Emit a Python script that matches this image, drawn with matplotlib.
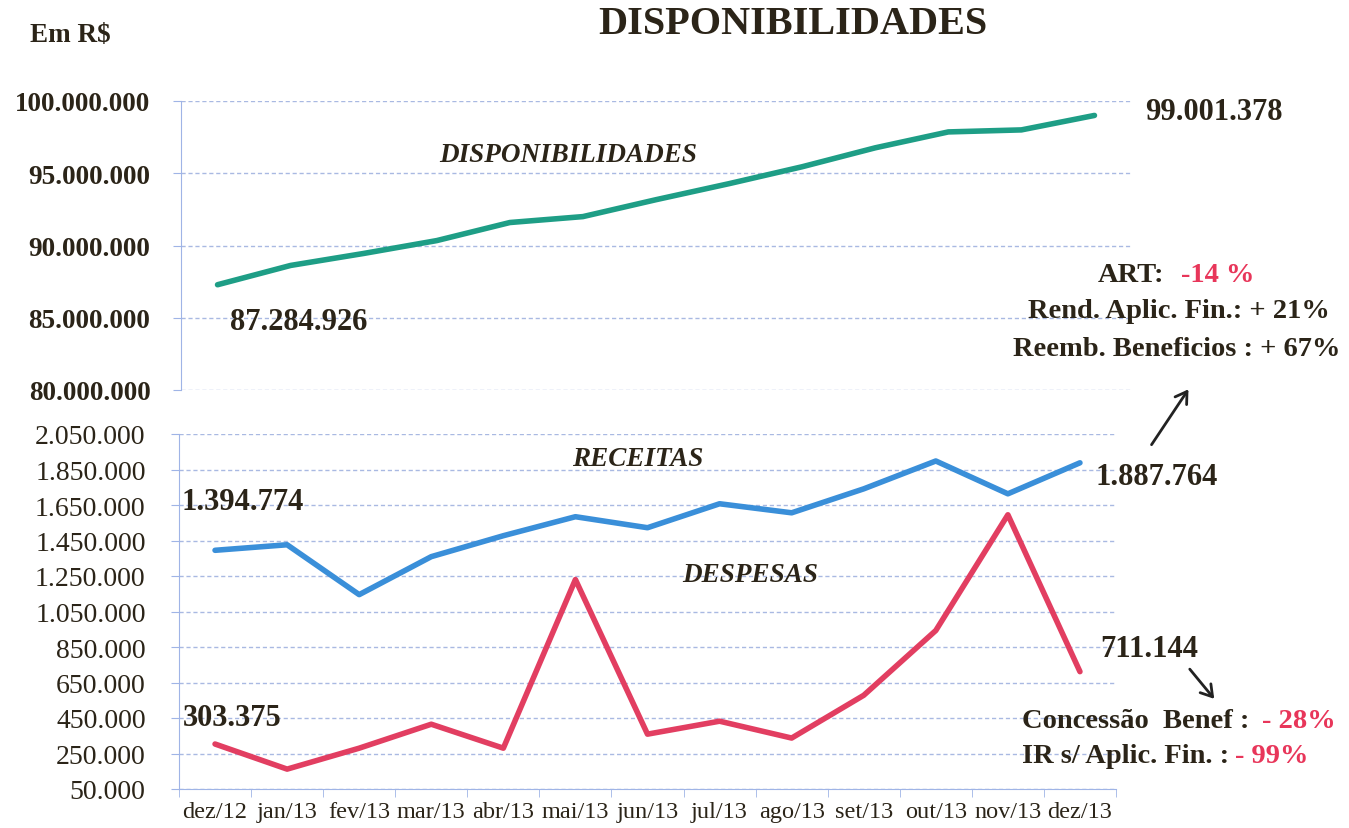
import matplotlib
matplotlib.use("Agg")
import matplotlib.pyplot as plt
from matplotlib.ticker import FixedLocator
from matplotlib.patches import FancyArrowPatch

plt.rcParams['font.family'] = ['Liberation Serif', 'DejaVu Serif']

meses = ['dez/12', 'jan/13', 'fev/13', 'mar/13', 'abr/13', 'mai/13', 'jun/13',
         'jul/13', 'ago/13', 'set/13', 'out/13', 'nov/13', 'dez/13']

# valores (R$)
disponibilidades = [87284926, 88620000, 89450000, 90340000, 91590000, 92000000,
                    93170000, 94280000, 95450000, 96760000, 97860000, 98000000,
                    99001378]
receitas = [1394774, 1426000, 1145000, 1359000, 1477000, 1584000, 1522000,
            1657000, 1606000, 1741000, 1898000, 1713000, 1887764]
despesas = [303375, 162000, 280000, 415000, 280000, 1230000, 359000,
            432000, 337000, 578000, 943000, 1595000, 711144]

ticks_top = [80000000, 85000000, 90000000, 95000000, 100000000]
ticks_bot = [50000 + 200000 * i for i in range(11)]

def fmt(v):
    return f'{v:,}'.replace(',', '.')

W, H = 1349, 829
fig = plt.figure(figsize=(W / 100, H / 100), dpi=100)
fig.patch.set_facecolor('white')

txt = '#2b2418'
red = '#e8365a'
grid_c = '#a9b9e2'
spine_c = '#9fb4e6'
x = list(range(len(meses)))

def box(l, t, r, b):
    return [l / W, 1 - b / H, (r - l) / W, (b - t) / H]

# painel superior
ax1 = fig.add_axes(box(181, 102, 1131, 391))
ax1.plot(x, disponibilidades, color='#1e9e86', lw=4, solid_capstyle='round')
ax1.set_xlim(-0.5, 12.5)
ax1.set_ylim(80000000, 100000000)
ax1.yaxis.set_major_locator(FixedLocator(ticks_top))
ax1.set_yticklabels([fmt(v) for v in ticks_top], fontsize=19.5,
                    fontweight='bold', color=txt)
ax1.set_xticks([])
ax1.grid(axis='y', color=grid_c, linestyle=(0, (3, 2)), lw=1)
for s in ['top', 'right', 'bottom']:
    ax1.spines[s].set_visible(False)
ax1.spines['left'].set_color(spine_c)
ax1.tick_params(axis='y', color=spine_c, length=6, pad=16)
ax1.set_facecolor('none')

# painel inferior
ax2 = fig.add_axes(box(179, 435, 1116, 790))
ax2.plot(x, receitas, color='#3a8fd9', lw=4, solid_capstyle='round')
ax2.plot(x, despesas, color='#e23e61', lw=4, solid_capstyle='round')
ax2.set_xlim(-0.5, 12.5)
ax2.set_ylim(50000, 2050000)
ax2.yaxis.set_major_locator(FixedLocator(ticks_bot))
ax2.set_yticklabels([fmt(v) for v in ticks_bot], fontsize=20, color=txt)
ax2.set_xticks(x)
ax2.set_xticklabels(meses, fontsize=17.5, color=txt)
ax2.set_xticks([i - 0.5 for i in range(len(meses) + 1)], minor=True)
ax2.tick_params(axis='x', which='major', length=0, pad=9)
ax2.tick_params(axis='x', which='minor', length=6, color=spine_c)
ax2.tick_params(axis='y', color=spine_c, length=6, pad=18)
ax2.grid(axis='y', color=grid_c, linestyle=(0, (3, 2)), lw=1)
for s in ['top', 'right']:
    ax2.spines[s].set_visible(False)
ax2.spines['left'].set_color(spine_c)
ax2.spines['bottom'].set_color(spine_c)
ax2.set_facecolor('none')

# textos
def t(px, py, s, **kw):
    kw.setdefault('color', txt)
    return fig.text(px / W, 1 - py / H, s, **kw)

def depois(prev, s, gap, **kw):
    # texto colocado logo a direita de outro texto
    return plt.annotate(s, xy=(1, 0.5), xycoords=prev, xytext=(gap, 0),
                        textcoords='offset points', va='center', **kw)

t(30, 36, 'Em R$', fontsize=19.5, fontweight='bold', va='center')
t(793, 25, 'DISPONIBILIDADES', fontsize=29, fontweight='bold', ha='center', va='center')
t(568, 155, 'DISPONIBILIDADES', fontsize=19.5, fontweight='bold', style='italic',
  ha='center', va='center')
t(230, 323, fmt(disponibilidades[0]), fontsize=22, fontweight='bold', va='center')
t(1145, 112, fmt(disponibilidades[-1]), fontsize=22, fontweight='bold', va='center')
t(638, 460, 'RECEITAS', fontsize=19.5, fontweight='bold', style='italic',
  ha='center', va='center')
t(750, 576, 'DESPESAS', fontsize=19.5, fontweight='bold', style='italic',
  ha='center', va='center')
t(182, 503, fmt(receitas[0]), fontsize=22, fontweight='bold', va='center')
t(1096, 478, fmt(receitas[-1]), fontsize=22, fontweight='bold', va='center')
t(183, 718, fmt(despesas[0]), fontsize=22, fontweight='bold', va='center')
t(1100, 650, fmt(despesas[-1]), fontsize=22, fontweight='bold', va='center')

fs = 20.5
a = t(1098, 275, 'ART:', fontsize=fs, fontweight='bold', va='center')
depois(a, '-14 %', 12, fontsize=fs, fontweight='bold', color=red)
t(1179, 311, 'Rend. Aplic. Fin.: + 21%', fontsize=fs, fontweight='bold',
  ha='center', va='center')
t(1177, 350, 'Reemb. Beneficios : + 67%', fontsize=fs, fontweight='bold',
  ha='center', va='center')
c = t(1022, 722, 'Concessão  Benef :', fontsize=fs, fontweight='bold', va='center')
depois(c, '- 28%', 9, fontsize=fs, fontweight='bold', color=red)
ir = t(1022, 757, 'IR s/ Aplic. Fin. :', fontsize=fs, fontweight='bold', va='center')
depois(ir, '- 99%', 4, fontsize=fs, fontweight='bold', color=red)

fig.patches.append(FancyArrowPatch(
    (1150 / W, 1 - 448 / H), (1190 / W, 1 - 388 / H), transform=fig.transFigure,
    arrowstyle='->,head_length=8,head_width=5', color='#222', lw=2))
fig.patches.append(FancyArrowPatch(
    (1188 / W, 1 - 668 / H), (1216 / W, 1 - 702 / H), transform=fig.transFigure,
    arrowstyle='->,head_length=8,head_width=5', color='#222', lw=2))

fig.savefig('out.png', dpi=100, facecolor='white')
